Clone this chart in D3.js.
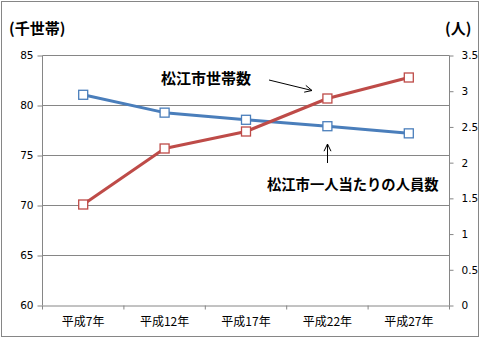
<!DOCTYPE html>
<html>
<head>
<meta charset="utf-8">
<script src="https://cdn.jsdelivr.net/npm/d3@7"></script>
<style>
  html, body { margin: 0; padding: 0; background: #fff; }
  svg { display: block; }
  .tick text { font-family: "DejaVu Sans", Verdana, sans-serif; font-size: 10.5px; fill: #000; }
</style>
</head>
<body>
<svg id="chart" width="481" height="339"></svg>
<script>
// Fiscal years (Heisei era)
const years = ["平成7年", "平成12年", "平成17年", "平成22年", "平成27年"];
// Number of households in Matsue city (thousands)
const households = [70.1, 75.7, 77.4, 80.7, 82.8];
// Persons per household in Matsue city
const personsPerHousehold = [2.95, 2.70, 2.60, 2.51, 2.41];
// Axis tick values
const leftTicks = [60, 65, 70, 75, 80, 85];
const rightTicks = [0, 0.5, 1, 1.5, 2, 2.5, 3, 3.5];

const svg = d3.select("#chart");
const gray = "#868686";
const blue = "#4A7EBB";
const red = "#BE4B48";
const cjk = "'Noto Sans CJK JP', 'Noto Sans', sans-serif";

// Outer chart frame
svg.append("rect")
  .attr("x", 1.5).attr("y", 1.5)
  .attr("width", 477).attr("height", 335)
  .attr("fill", "#fff").attr("stroke", gray).attr("stroke-width", 1);

const plotLeft = 42.5, plotRight = 449.5, plotTop = 55.5, plotBottom = 305.5;

const x = d3.scaleBand().domain(years).range([plotLeft, plotRight]).padding(0);
const yL = d3.scaleLinear().domain([60, 85]).range([plotBottom, plotTop]);
const yR = d3.scaleLinear().domain([0, 3.5]).range([plotBottom, plotTop]);

// Horizontal gridlines
svg.append("g").selectAll("line")
  .data(leftTicks.filter(v => v > 60))
  .join("line")
  .attr("x1", plotLeft).attr("x2", plotRight)
  .attr("y1", d => yL(d)).attr("y2", d => yL(d))
  .attr("stroke", gray).attr("stroke-width", 1);

// Left axis
const gL = svg.append("g").attr("transform", `translate(${plotLeft},0)`)
  .call(d3.axisLeft(yL).tickValues(leftTicks).tickSize(5).tickPadding(4).tickFormat(d3.format("d")));
gL.selectAll("line").attr("stroke", gray);
gL.select(".domain").attr("stroke", gray).attr("d", `M0,${plotBottom}V${plotTop}`);

// Right axis
const gR = svg.append("g").attr("transform", `translate(${plotRight},0)`)
  .call(d3.axisRight(yR).tickValues(rightTicks).tickSize(4).tickPadding(8)
    .tickFormat(d => String(+d.toFixed(1))));
gR.selectAll("line").attr("stroke", gray);
gR.selectAll("text").attr("text-anchor", "start");
gR.select(".domain").attr("stroke", gray).attr("d", `M0,${plotBottom}V${plotTop}`);

// Bottom axis: category labels, with tick marks at category boundaries
const gX = svg.append("g").attr("transform", `translate(0,${plotBottom})`)
  .call(d3.axisBottom(x).tickSize(0).tickPadding(12));
gX.select(".domain").attr("stroke", gray);
gX.selectAll("text").style("font-family", cjk).style("font-size", "12px");
const boundaries = years.map(d => x(d)).concat([x.range()[1]]);
gX.append("g").selectAll("line")
  .data(boundaries)
  .join("line")
  .attr("x1", d => d).attr("x2", d => d)
  .attr("y1", 0).attr("y2", 4)
  .attr("stroke", gray);

// Series lines
const lineL = d3.line().x((d, i) => x(years[i]) + x.bandwidth() / 2).y(d => yL(d));
const lineR = d3.line().x((d, i) => x(years[i]) + x.bandwidth() / 2).y(d => yR(d));

svg.append("path").datum(personsPerHousehold)
  .attr("d", lineR).attr("fill", "none").attr("stroke", blue).attr("stroke-width", 3)
  .attr("stroke-linejoin", "round");
svg.append("path").datum(households)
  .attr("d", lineL).attr("fill", "none").attr("stroke", red).attr("stroke-width", 3)
  .attr("stroke-linejoin", "round");

// Square markers
function markers(data, y, color) {
  svg.append("g").selectAll("rect")
    .data(data)
    .join("rect")
    .attr("x", (d, i) => x(years[i]) + x.bandwidth() / 2 - 4.5)
    .attr("y", d => y(d) - 4.5)
    .attr("width", 9).attr("height", 9)
    .attr("fill", "#fff").attr("stroke", color).attr("stroke-width", 1.3);
}
markers(personsPerHousehold, yR, blue);
markers(households, yL, red);

// Axis unit titles
svg.append("text").attr("x", 9).attr("y", 34)
  .style("font-family", cjk).style("font-size", "15px").style("font-weight", "bold")
  .text("(千世帯)");
svg.append("text").attr("x", 445).attr("y", 34)
  .style("font-family", cjk).style("font-size", "15px").style("font-weight", "bold")
  .text("(人)");

// Series annotations
svg.append("text").attr("x", 161).attr("y", 84)
  .style("font-family", cjk).style("font-size", "15px").style("font-weight", "bold")
  .text("松江市世帯数");
svg.append("text").attr("x", 267).attr("y", 190)
  .style("font-family", cjk).style("font-size", "14.3px").style("font-weight", "bold")
  .text("松江市一人当たりの人員数");

// Open arrowheads
function arrow(x1, y1, x2, y2) {
  const g = svg.append("g").attr("stroke", "#000").attr("stroke-width", 1).attr("fill", "none");
  g.append("line").attr("x1", x1).attr("y1", y1).attr("x2", x2).attr("y2", y2);
  const a = Math.atan2(y2 - y1, x2 - x1), len = 8, spread = 0.45;
  g.append("path").attr("d",
    `M${x2 - len * Math.cos(a - spread)},${y2 - len * Math.sin(a - spread)}` +
    `L${x2},${y2}` +
    `L${x2 - len * Math.cos(a + spread)},${y2 - len * Math.sin(a + spread)}`);
}
arrow(269, 80, 312, 90.5);
arrow(327.5, 163, 327.5, 144);
</script>
</body>
</html>
